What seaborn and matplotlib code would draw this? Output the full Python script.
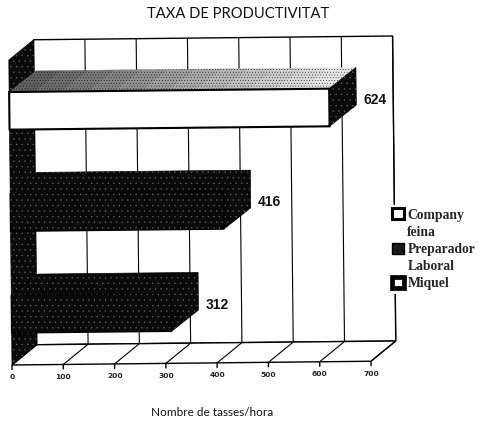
import matplotlib
matplotlib.use("Agg")
import matplotlib.pyplot as plt
import seaborn as sns
from matplotlib.patches import Polygon, Patch
from matplotlib.transforms import Affine2D

TITLE = "TAXA DE PRODUCTIVITAT"
XLABEL = "Nombre de tasses/hora"
categories = ["Company feina", "Preparador Laboral", "Miquel"]
legend_lines = [["Company", "feina"], ["Preparador", "Laboral"], ["Miquel"]]
values = [624, 416, 312]
xticks = [0, 100, 200, 300, 400, 500, 600, 700]

W, H = 479, 424
sns.set_theme(style="white")
plt.rcParams["hatch.linewidth"] = 0.2
fig = plt.figure(figsize=(W / 100, H / 100), dpi=100)
L, R, T, B = 12, 371, 60, 365
ax = fig.add_axes([L / W, 1 - B / H, (R - L) / W, (B - T) / H])
ax.patch.set_alpha(0)
sns.barplot(x=values, y=categories, ax=ax, width=0.37, orient="h",
            order=categories, color="black", saturation=1)
ax.set_xlim(0, 700)
ax.set_ylim(2.5, -0.5)
ax.axis("off")

rot = Affine2D().rotate_deg_around(L, H - B, 0.6)
tr = ax.transData + rot
px = 700 / (R - L)
py = 3 / (B - T)
DX, DY = 25 * px, 20 * py      # wall depth
BX, BY = 27 * px, 21 * py      # bar depth
ytop, ybot = -0.5, 2.5
DARK = "#0a0a0a"
SPECK = "#6a6a6a"


def poly(pts, z, **kw):
    kw.setdefault("fc", "white")
    kw.setdefault("ec", "black")
    kw.setdefault("lw", 0.8)
    p = Polygon(pts, closed=True, transform=tr, zorder=z, clip_on=False, **kw)
    ax.add_patch(p)
    return p


def dark(pts, z):
    poly(pts, z, fc=DARK, ec="black", lw=0.5)
    poly(pts, z + 0.05, fc="none", ec=SPECK, lw=0, hatch="...")


def line(xs, ys, z=2, lw=0.8):
    ax.plot(xs, ys, color="black", lw=lw, transform=tr, zorder=z, clip_on=False,
            solid_capstyle="butt")


# back wall with gridlines
poly([(DX, ytop - DY), (700 + DX, ytop - DY), (700 + DX, ybot - DY), (DX, ybot - DY)], 1, lw=1.0)
for t in xticks[1:]:
    line([t + DX, t + DX], [ytop - DY, ybot - DY])
# floor
poly([(0, ybot), (700, ybot), (700 + DX, ybot - DY), (DX, ybot - DY)], 1.5, lw=1.0)
for t in xticks[1:]:
    line([t, t + DX], [ybot, ybot - DY])
# left wall
dark([(0, ybot), (DX, ybot - DY), (DX, ytop - DY), (0, ytop)], 2)

# bars: front faces come from seaborn; top and side faces follow from them
fronts = list(ax.patches)[:len(values)]
for i, (bar, v) in enumerate(zip(fronts, values)):
    y0, y1 = sorted([bar.get_y(), bar.get_y() + bar.get_height()])
    bar.set_transform(tr)
    bar.set_zorder(5)
    bar.set_clip_on(False)
    if i == 0:
        bar.set_facecolor("white")
        bar.set_edgecolor("black")
        bar.set_linewidth(1.5)
        n = 12
        for k in range(n):
            a, b = v * k / n, v * (k + 1) / n
            grey = 0.38 + 0.52 * k / (n - 1)
            pts = [(a, y0), (b, y0), (b + BX, y0 - BY), (a + BX, y0 - BY)]
            poly(pts, 4, fc=(grey, grey, grey), ec=(grey, grey, grey), lw=0.2)
            poly(pts, 4.05, fc="none", ec="black", lw=0, hatch="......")
    else:
        bar.set_facecolor(DARK)
        bar.set_edgecolor("black")
        dark([(0, y0), (v, y0), (v + BX, y0 - BY), (BX, y0 - BY)], 4)
        poly([(0, y0), (v, y0), (v, y1), (0, y1)], 5.1, fc="none", ec=SPECK, lw=0, hatch="...")
    dark([(v, y0), (v + BX, y0 - BY), (v + BX, y1 - BY), (v, y1)], 4.5)
    ax.text(v + 34 * px, i - 7.5 * py, str(v), transform=tr, ha="left", va="center",
            fontsize=10, fontweight="bold", family="Liberation Sans", color="#111111",
            zorder=7, clip_on=False)

# ticks and tick labels
for t in xticks:
    line([t, t], [ybot, ybot + 5 * py], lw=1)
    ax.text(t, ybot + 12.5 * py, str(t), transform=tr, ha="center", va="center", fontsize=5.4,
            fontweight="bold", family="DejaVu Sans", color="#222222", clip_on=False)

fig.text(238 / W, 1 - 14 / H, TITLE, ha="center", va="center", fontsize=10.6, family="Lato",
         color="#111111")
fig.text(212 / W, 1 - 412 / H, XLABEL, ha="center", va="center", fontsize=8.5, family="Lato",
         color="#111111")

styles = [dict(fc="white", ec="black", lw=2.2),
          dict(fc="#1a1a1a", ec="black", hatch="..."),
          dict(fc="white", ec="black", lw=3.4)]
handles, labels = [], []
for style, lines in zip(styles, legend_lines):
    for j, text in enumerate(lines):
        handles.append(Patch(**style) if j == 0 else Patch(fc="none", ec="none"))
        labels.append(text)
leg = fig.legend(handles, labels, loc="upper left", bbox_to_anchor=(389 / W, 1 - 205 / H),
                 frameon=True, facecolor="white", edgecolor="none", framealpha=1,
                 handlelength=0.85, handleheight=0.85, handletextpad=0.25,
                 labelspacing=0.3, borderpad=0.25, borderaxespad=0,
                 prop={"family": "Liberation Serif", "weight": "bold", "size": 9.8})
leg.set_zorder(20)

fig.savefig("out.png", dpi=100, facecolor="white")
